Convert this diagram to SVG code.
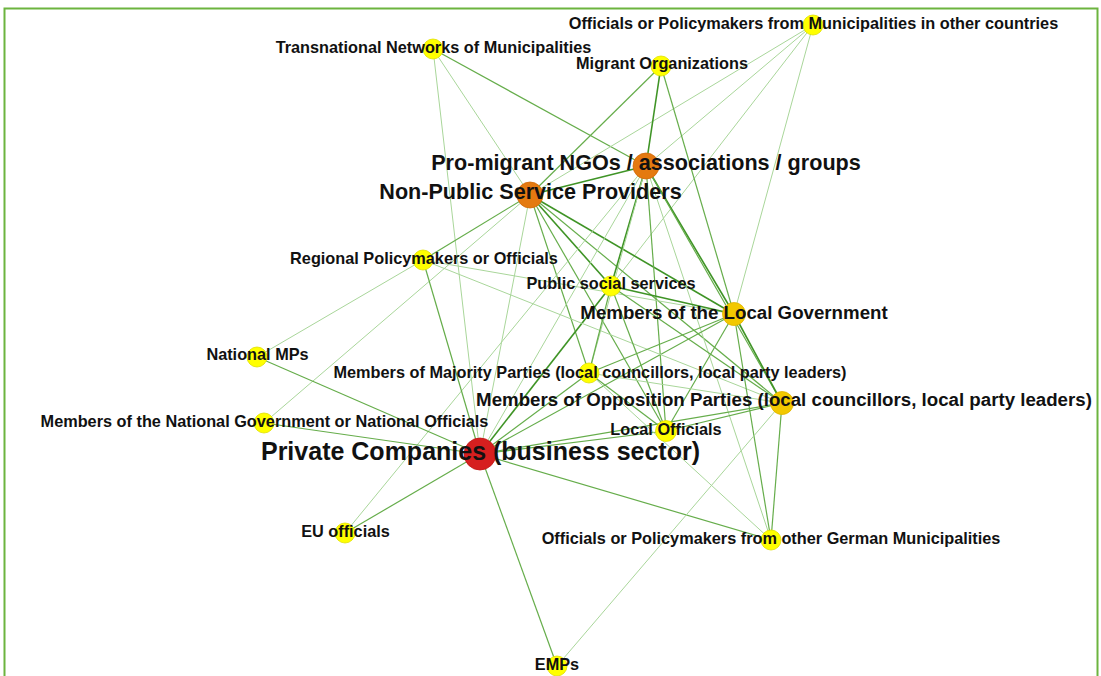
<svg xmlns="http://www.w3.org/2000/svg" width="1101" height="676" viewBox="0 0 1101 676">
<style>
.e1{stroke:#a9d69a;stroke-width:1;fill:none}
.e2{stroke:#66ad4b;stroke-width:1.2;fill:none}
.e3{stroke:#3f9426;stroke-width:1.6;fill:none}
.lbl{font-family:"Liberation Sans",Arial,sans-serif;font-weight:bold;fill:#111;text-anchor:middle}
.s{font-size:16.3px}
.m{font-size:18.7px}
.l{font-size:21.6px}
.xl{font-size:25px}
.y{fill:#ffff00;stroke:#e0e000;stroke-width:0.8}
.o{fill:#e47a10;stroke:#d06a08;stroke-width:0.8}
.g{fill:#f2c800;stroke:#e0b400;stroke-width:0.8}
.r{fill:#d61f1f;stroke:#c01414;stroke-width:0.8}
</style>
<rect x="0" y="0" width="1101" height="676" fill="#ffffff"/>
<rect x="4.5" y="8.5" width="1093" height="700" fill="none" stroke="#6cb43f" stroke-width="2"/>
<g id="connectors">
<line class="e2" x1="433" y1="49" x2="646" y2="166"/>
<line class="e1" x1="433" y1="49" x2="530" y2="195"/>
<line class="e1" x1="433" y1="49" x2="480" y2="454"/>
<line class="e1" x1="813" y1="25" x2="530" y2="195"/>
<line class="e1" x1="813" y1="25" x2="646" y2="166"/>
<line class="e1" x1="813" y1="25" x2="611" y2="286"/>
<line class="e1" x1="813" y1="25" x2="734" y2="314"/>
<line class="e2" x1="661" y1="66" x2="530" y2="195"/>
<line class="e3" x1="661" y1="66" x2="646" y2="166"/>
<line class="e2" x1="661" y1="66" x2="734" y2="314"/>
<line class="e3" x1="530" y1="195" x2="646" y2="166"/>
<line class="e2" x1="530" y1="195" x2="423" y2="260"/>
<line class="e1" x1="530" y1="195" x2="264" y2="423"/>
<line class="e3" x1="530" y1="195" x2="611" y2="286"/>
<line class="e3" x1="530" y1="195" x2="734" y2="314"/>
<line class="e2" x1="530" y1="195" x2="589" y2="373"/>
<line class="e2" x1="530" y1="195" x2="666" y2="431"/>
<line class="e2" x1="530" y1="195" x2="782" y2="403"/>
<line class="e1" x1="530" y1="195" x2="480" y2="454"/>
<line class="e3" x1="646" y1="166" x2="611" y2="286"/>
<line class="e3" x1="646" y1="166" x2="734" y2="314"/>
<line class="e2" x1="646" y1="166" x2="666" y2="431"/>
<line class="e1" x1="646" y1="166" x2="771" y2="540"/>
<line class="e2" x1="646" y1="166" x2="782" y2="403"/>
<line class="e1" x1="646" y1="166" x2="589" y2="373"/>
<line class="e1" x1="646" y1="166" x2="480" y2="454"/>
<line class="e1" x1="646" y1="166" x2="345" y2="533"/>
<line class="e3" x1="480" y1="454" x2="611" y2="286"/>
<line class="e2" x1="480" y1="454" x2="423" y2="260"/>
<line class="e2" x1="480" y1="454" x2="589" y2="373"/>
<line class="e2" x1="480" y1="454" x2="734" y2="314"/>
<line class="e2" x1="480" y1="454" x2="782" y2="403"/>
<line class="e2" x1="480" y1="454" x2="666" y2="431"/>
<line class="e2" x1="480" y1="454" x2="771" y2="540"/>
<line class="e2" x1="480" y1="454" x2="557" y2="666"/>
<line class="e2" x1="480" y1="454" x2="345" y2="533"/>
<line class="e2" x1="480" y1="454" x2="257" y2="357"/>
<line class="e2" x1="480" y1="454" x2="264" y2="423"/>
<line class="e1" x1="423" y1="260" x2="257" y2="357"/>
<line class="e1" x1="423" y1="260" x2="734" y2="314"/>
<line class="e1" x1="423" y1="260" x2="782" y2="403"/>
<line class="e3" x1="611" y1="286" x2="734" y2="314"/>
<line class="e2" x1="611" y1="286" x2="589" y2="373"/>
<line class="e2" x1="611" y1="286" x2="666" y2="431"/>
<line class="e2" x1="611" y1="286" x2="782" y2="403"/>
<line class="e2" x1="734" y1="314" x2="589" y2="373"/>
<line class="e2" x1="734" y1="314" x2="666" y2="431"/>
<line class="e3" x1="734" y1="314" x2="782" y2="403"/>
<line class="e2" x1="734" y1="314" x2="771" y2="540"/>
<line class="e2" x1="589" y1="373" x2="666" y2="431"/>
<line class="e1" x1="589" y1="373" x2="782" y2="403"/>
<line class="e1" x1="589" y1="373" x2="771" y2="540"/>
<line class="e2" x1="666" y1="431" x2="782" y2="403"/>
<line class="e2" x1="782" y1="403" x2="771" y2="540"/>
<line class="e1" x1="782" y1="403" x2="557" y2="666"/>
</g>
<g id="n-tn"><circle class="y" cx="433" cy="49" r="10"/><text class="lbl s" x="433.5" y="53">Transnational Networks of Municipalities</text></g>
<g id="n-opo"><circle class="y" cx="813" cy="25" r="10"/><text class="lbl s" x="813.5" y="29.3">Officials or Policymakers from Municipalities in other countries</text></g>
<g id="n-mo"><circle class="y" cx="661" cy="66" r="10"/><text class="lbl s" x="662" y="69.3">Migrant Organizations</text></g>
<g id="n-ngo"><circle class="o" cx="646" cy="166" r="13"/><text class="lbl l" x="646" y="170">Pro-migrant NGOs / associations / groups</text></g>
<g id="n-npsp"><circle class="o" cx="530" cy="195" r="13"/><text class="lbl l" x="530.5" y="199.3">Non-Public Service Providers</text></g>
<g id="n-rpo"><circle class="y" cx="423" cy="260" r="10"/><text class="lbl s" x="424" y="263.5">Regional Policymakers or Officials</text></g>
<g id="n-pss"><circle class="y" cx="611" cy="286" r="10"/><text class="lbl s" x="611" y="289">Public social services</text></g>
<g id="n-mlg"><circle class="g" cx="734" cy="314" r="11.5"/><text class="lbl m" x="734" y="318.5">Members of the Local Government</text></g>
<g id="n-nmp"><circle class="y" cx="257" cy="357" r="10"/><text class="lbl s" x="257.5" y="360">National MPs</text></g>
<g id="n-mmp"><circle class="y" cx="589" cy="373" r="10"/><text class="lbl s" x="590" y="377.5">Members of Majority Parties (local councillors, local party leaders)</text></g>
<g id="n-mop"><circle class="g" cx="782" cy="403" r="11.5"/><text class="lbl m" x="784" y="405.7">Members of Opposition Parties (local councillors, local party leaders)</text></g>
<g id="n-mng"><circle class="y" cx="264" cy="423" r="10"/><text class="lbl s" x="264.5" y="426.7">Members of the National Government or National Officials</text></g>
<g id="n-lo"><circle class="y" cx="666" cy="431" r="10.5"/><text class="lbl s" x="666" y="435">Local Officials</text></g>
<g id="n-pc"><circle class="r" cx="480" cy="454" r="16"/><text class="lbl xl" x="480.5" y="459.5">Private Companies (business sector)</text></g>
<g id="n-eu"><circle class="y" cx="345" cy="533" r="10"/><text class="lbl s" x="345.5" y="536.7">EU officials</text></g>
<g id="n-ogm"><circle class="y" cx="771" cy="540" r="10"/><text class="lbl s" x="771" y="543.5">Officials or Policymakers from other German Municipalities</text></g>
<g id="n-emp"><circle class="y" cx="557" cy="666" r="10"/><text class="lbl s" x="557" y="670">EMPs</text></g>
</svg>
